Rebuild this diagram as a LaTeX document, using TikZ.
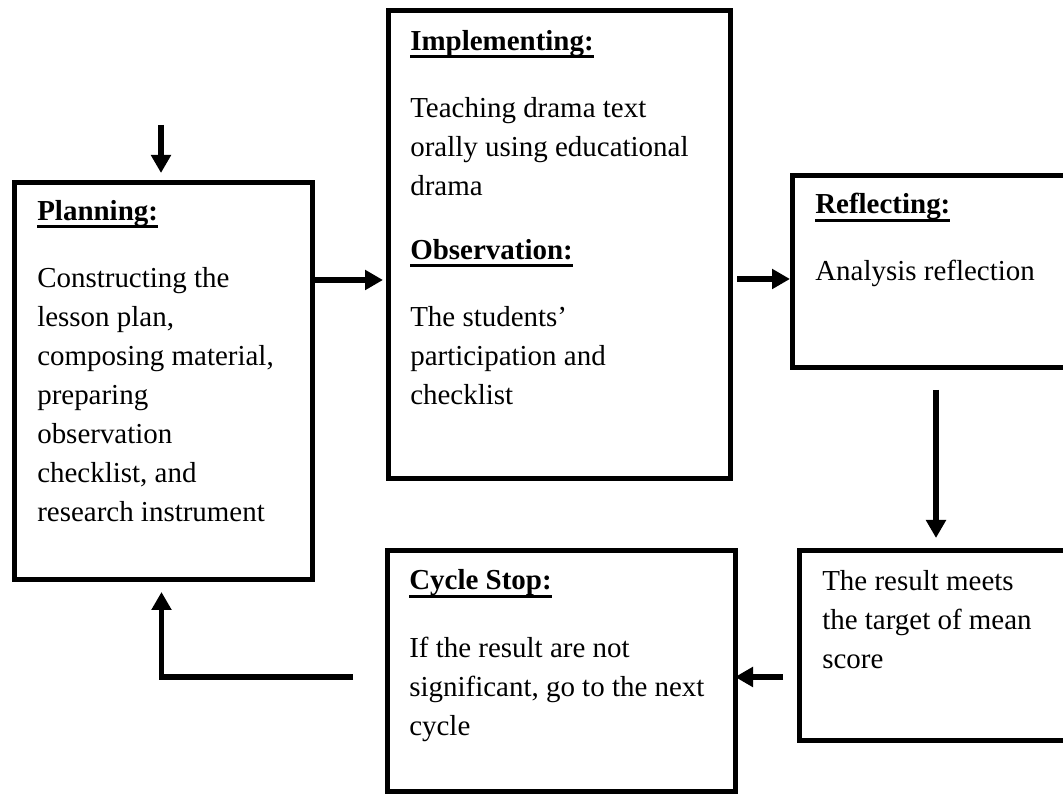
\documentclass[tikz,border=0pt]{standalone}
\usepackage{fontspec}
\setmainfont{Liberation Serif}
\usetikzlibrary{arrows.meta}

\newsavebox{\hdbox}
\newcommand{\hd}[1]{\sbox{\hdbox}{\textbf{#1}}\rlap{\rule[-0.2cm]{\wd\hdbox}{0.075cm}}\usebox{\hdbox}}

\begin{document}
\begin{tikzpicture}[
    box/.style={rectangle, draw={rgb,255:red,0;green,0;blue,0}, line width=0.125cm, inner sep=0pt, outer sep=0pt},
    txt/.style={anchor=base west, align=left, inner sep=0pt, text={rgb,255:red,0;green,0;blue,0}, font={\fontsize{20.6pt}{27.8pt}\selectfont}},
    flow/.style={draw={rgb,255:red,0;green,0;blue,0}, line width=0.14cm, -{Triangle[length=0.45cm, width=0.48cm]}}
]

    \useasboundingbox (0,0) rectangle (26.575,19.925);
    \clip (0,0) rectangle (26.575,19.925);

    % boxes
    \node[box, minimum width=7.425cm, minimum height=9.925cm] (ndPlanning) at (4.0875,10.3875) {};
    \node[box, minimum width=8.55cm, minimum height=11.7125cm] (ndImpl) at (13.975,13.806) {};
    \node[box, minimum width=7.2cm, minimum height=4.8cm] (ndReflect) at (23.4,13.1375) {};
    \node[box, minimum width=7.025cm, minimum height=4.7625cm] (ndResult) at (23.4875,3.78125) {};
    \node[box, minimum width=8.6875cm, minimum height=6.0375cm] (ndCycle) at (14.03125,3.14375) {};

    % texts (placed at the baseline of their last line)
    \node[txt] (txPlanning) at (0.925,6.885) {\hd{Planning:}\\[0.7cm] Constructing the\\ lesson plan,\\ composing material,\\ preparing\\ observation\\ checklist, and\\ research instrument};
    \node[txt] (txImpl) at (10.25,9.815) {\hd{Implementing:}\\[0.7cm] Teaching drama text\\ orally using educational\\ drama\\[0.62cm] \hd{Observation:}\\[0.7cm] The students'\\ participation and\\ checklist};
    \node[txt] (txReflect) at (20.375,12.9) {\hd{Reflecting:}\\[0.7cm] Analysis reflection};
    \node[txt] (txResult) at (20.55,3.22) {The result meets\\ the target of mean\\ score};
    \node[txt] (txCycle) at (10.225,1.545) {\hd{Cycle Stop:}\\[0.7cm] If the result are not\\ significant, go to the next\\ cycle};

    % connectors
    \coordinate (cTop) at (4.025,16.8);
    \coordinate (rowA) at (0,12.925);
    \coordinate (rowB) at (0,12.95);
    \coordinate (colR) at (23.4,0);
    \coordinate (rowC) at (0,3.0);
    \coordinate (cBend) at (4.0375,3.0);

    \draw[flow, shorten >=0.25cm] (cTop) -- (cTop |- ndPlanning.north);
    \draw[flow, shorten >=0.125cm] (ndPlanning.east |- rowA) -- (ndImpl.west |- rowA);
    \draw[flow, shorten <=0.175cm, shorten >=0.05cm] (ndImpl.east |- rowB) -- (ndReflect.west |- rowB);
    \draw[flow, shorten <=0.5625cm, shorten >=0.3125cm] (colR |- ndReflect.south) -- (colR |- ndResult.north);
    \draw[flow, shorten <=0.4cm] (ndResult.west |- rowC) -- (ndCycle.east |- rowC);
    \draw[flow, shorten <=0.8625cm, shorten >=0.3cm] (ndCycle.west |- cBend) -- (cBend) -- (cBend |- ndPlanning.south);
\end{tikzpicture}
\end{document}
